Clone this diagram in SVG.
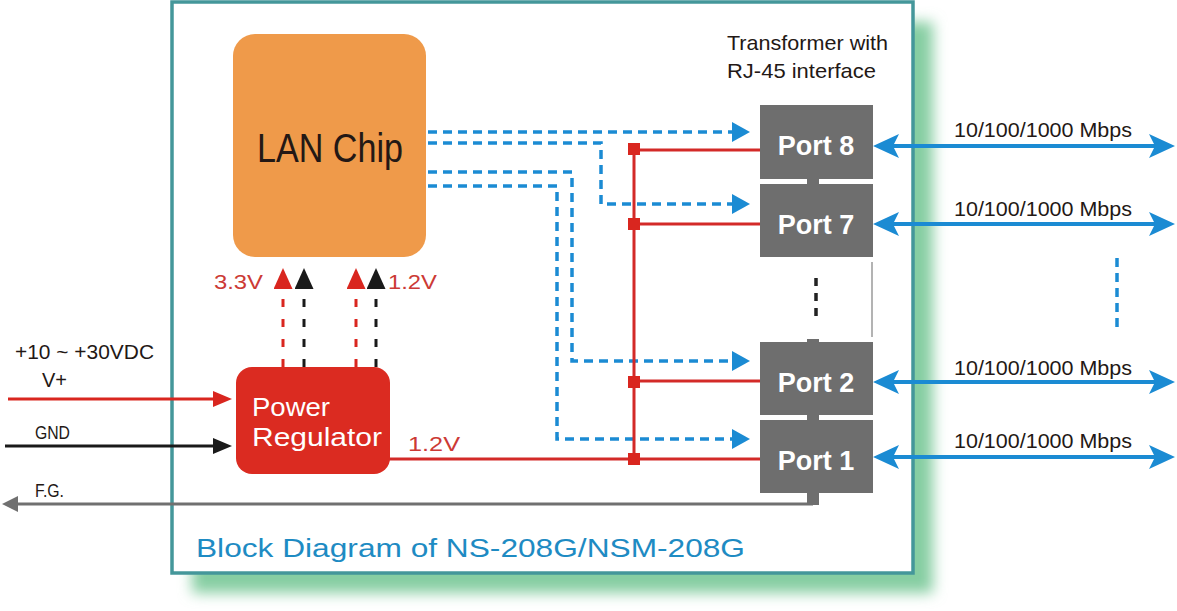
<svg xmlns="http://www.w3.org/2000/svg" width="1177" height="611" viewBox="0 0 1177 611">
<style>
.t{font-family:"Liberation Sans",Arial,sans-serif;fill:#231815}
.port{fill:#6e6e6e}
.pt{font-family:"Liberation Sans",Arial,sans-serif;font-weight:bold;font-size:27px;fill:#fff;text-anchor:middle}
.blue{stroke:#1b8bd3;stroke-width:3.5;fill:none;stroke-dasharray:9 6}
.bi{stroke:#1b8bd3;stroke-width:4;fill:none}
.red{stroke:#d32a28;stroke-width:3;fill:none}
.volt{font-family:"Liberation Sans",Arial,sans-serif;font-size:21px;fill:#cc3a35}
.mb{font-family:"Liberation Sans",Arial,sans-serif;font-size:21px;fill:#231815}
</style>
<defs>
<filter id="blur" x="-10%" y="-10%" width="120%" height="120%"><feGaussianBlur stdDeviation="7"/></filter>
<marker id="ab" markerUnits="userSpaceOnUse" markerWidth="18" markerHeight="20" refX="8" refY="10" orient="auto"><path d="M0,0 L18,10 L0,20 z" fill="#1b8bd3" stroke="none"/></marker>
<marker id="bi" markerUnits="userSpaceOnUse" markerWidth="26" markerHeight="24" refX="14" refY="12" orient="auto-start-reverse"><path d="M0,0 L26,12 L0,24 L6,12 z" fill="#1b8bd3" stroke="none"/></marker>
<marker id="ur" markerUnits="userSpaceOnUse" markerWidth="21" markerHeight="19" refX="11" refY="9.5" orient="auto"><path d="M0,0 L21,9.5 L0,19 z" fill="#d9261f" stroke="none"/></marker>
<marker id="uk" markerUnits="userSpaceOnUse" markerWidth="21" markerHeight="19" refX="11" refY="9.5" orient="auto"><path d="M0,0 L21,9.5 L0,19 z" fill="#1a1a1a" stroke="none"/></marker>
<marker id="ar" markerUnits="userSpaceOnUse" markerWidth="19" markerHeight="16" refX="9" refY="8" orient="auto"><path d="M0,0 L19,8 L0,16 z" fill="#d9261f" stroke="none"/></marker>
<marker id="ak" markerUnits="userSpaceOnUse" markerWidth="19" markerHeight="16" refX="9" refY="8" orient="auto"><path d="M0,0 L19,8 L0,16 z" fill="#1a1a1a" stroke="none"/></marker>
<marker id="ag" markerUnits="userSpaceOnUse" markerWidth="16" markerHeight="16" refX="6" refY="8" orient="auto"><path d="M0,0 L16,8 L0,16 z" fill="#707070" stroke="none"/></marker>
</defs>
<rect width="1177" height="611" fill="#fff"/>
<g id="frame">
<rect x="192" y="22" width="741" height="571" fill="#86cea2" filter="url(#blur)"/>
<rect x="172" y="2" width="741" height="571" fill="#fff" stroke="#44979a" stroke-width="3.5"/>
<text class="t" x="196" y="557" font-size="25" fill="#1e8bc3" style="fill:#1e8bc3" textLength="549" lengthAdjust="spacingAndGlyphs">Block Diagram of NS-208G/NSM-208G</text>
</g>
<g id="connectors">
<path class="blue" d="M428,132 H740" marker-end="url(#ab)"/>
<path class="blue" d="M428,143 H601 V204 H740" marker-end="url(#ab)"/>
<path class="blue" d="M428,172 H572 V361 H740" marker-end="url(#ab)"/>
<path class="blue" d="M428,186 H557 V439 H740" marker-end="url(#ab)"/>
<path class="red" d="M389,459 H760"/>
<path class="red" d="M634,150 V459"/>
<path class="red" d="M634,150 H760 M634,224 H760 M634,381 H760"/>
<g fill="#d9261f">
<rect x="628" y="143" width="12" height="12"/>
<rect x="628" y="218" width="12" height="12"/>
<rect x="628" y="376" width="12" height="12"/>
<rect x="628" y="453" width="12" height="12"/>
</g>
<path d="M283,367 V278" stroke="#d9261f" stroke-width="3" stroke-dasharray="8 12" marker-end="url(#ur)"/>
<path d="M304,367 V278" stroke="#1a1a1a" stroke-width="3" stroke-dasharray="8 12" marker-end="url(#uk)"/>
<path d="M356,367 V278" stroke="#d9261f" stroke-width="3" stroke-dasharray="8 12" marker-end="url(#ur)"/>
<path d="M376,367 V278" stroke="#1a1a1a" stroke-width="3" stroke-dasharray="8 12" marker-end="url(#uk)"/>
<path d="M8,399 H222" stroke="#d9261f" stroke-width="3" marker-end="url(#ar)"/>
<path d="M5,446 H222" stroke="#1a1a1a" stroke-width="3" marker-end="url(#ak)"/>
<path d="M813,504 H12" stroke="#707070" stroke-width="3" marker-end="url(#ag)"/>
<path class="bi" d="M885,146 H1163" marker-start="url(#bi)" marker-end="url(#bi)"/>
<path class="bi" d="M885,224 H1163" marker-start="url(#bi)" marker-end="url(#bi)"/>
<path class="bi" d="M885,382 H1163" marker-start="url(#bi)" marker-end="url(#bi)"/>
<path class="bi" d="M885,457 H1163" marker-start="url(#bi)" marker-end="url(#bi)"/>
<path d="M816,278 V322" stroke="#222" stroke-width="3.5" stroke-dasharray="8 7"/>
<path d="M1117,258 V332" stroke="#1b8bd3" stroke-width="3.5" stroke-dasharray="9 6"/>
<path d="M872,262 V337" stroke="#9a9a9a" stroke-width="1.5"/>
</g>
<g id="lan-chip">
<rect x="233" y="34" width="193" height="223" rx="22" fill="#ef9a4a"/>
<text class="t" x="257" y="162" font-size="41" textLength="146" lengthAdjust="spacingAndGlyphs">LAN Chip</text>
</g>
<g id="power-regulator">
<rect x="236" y="367" width="154" height="107" rx="16" fill="#db2b21"/>
<text class="t" x="252" y="416" font-size="26" style="fill:#fff" textLength="78" lengthAdjust="spacingAndGlyphs">Power</text>
<text class="t" x="252" y="446" font-size="26" style="fill:#fff" textLength="130" lengthAdjust="spacingAndGlyphs">Regulator</text>
</g>
<g id="port-8">
<rect class="port" x="760" y="105" width="113" height="74"/>
<text class="pt" x="816" y="155">Port 8</text>
</g>
<rect class="port" x="807" y="177" width="12" height="8"/>
<g id="port-7">
<rect class="port" x="760" y="184" width="113" height="73"/>
<text class="pt" x="816" y="234">Port 7</text>
</g>
<g id="port-2">
<rect class="port" x="807" y="339" width="12" height="4"/>
<rect class="port" x="760" y="342" width="113" height="73"/>
<text class="pt" x="816" y="392">Port 2</text>
</g>
<rect class="port" x="807" y="413" width="12" height="8"/>
<g id="port-1">
<rect class="port" x="760" y="420" width="113" height="73"/>
<rect class="port" x="807" y="492" width="12" height="13"/>
<text class="pt" x="816" y="470">Port 1</text>
</g>
<g id="labels">
<text class="t" x="727" y="50" font-size="21" textLength="161" lengthAdjust="spacingAndGlyphs">Transformer with</text>
<text class="t" x="727" y="78" font-size="21" textLength="149" lengthAdjust="spacingAndGlyphs">RJ-45 interface</text>
<text class="mb" x="954" y="137" textLength="178" lengthAdjust="spacingAndGlyphs">10/100/1000 Mbps</text>
<text class="mb" x="954" y="216" textLength="178" lengthAdjust="spacingAndGlyphs">10/100/1000 Mbps</text>
<text class="mb" x="954" y="375" textLength="178" lengthAdjust="spacingAndGlyphs">10/100/1000 Mbps</text>
<text class="mb" x="954" y="448" textLength="178" lengthAdjust="spacingAndGlyphs">10/100/1000 Mbps</text>
<text class="volt" x="214" y="289" textLength="49" lengthAdjust="spacingAndGlyphs">3.3V</text>
<text class="volt" x="388" y="289" textLength="49" lengthAdjust="spacingAndGlyphs">1.2V</text>
<text class="volt" x="408" y="451" textLength="52" lengthAdjust="spacingAndGlyphs">1.2V</text>
<text class="t" x="15" y="359" font-size="20" textLength="139" lengthAdjust="spacingAndGlyphs">+10 ~ +30VDC</text>
<text class="t" x="42" y="387" font-size="20">V+</text>
<text class="t" x="35" y="439" font-size="19" textLength="35" lengthAdjust="spacingAndGlyphs">GND</text>
<text class="t" x="35" y="497" font-size="19" textLength="29" lengthAdjust="spacingAndGlyphs">F.G.</text>
</g>
</svg>
